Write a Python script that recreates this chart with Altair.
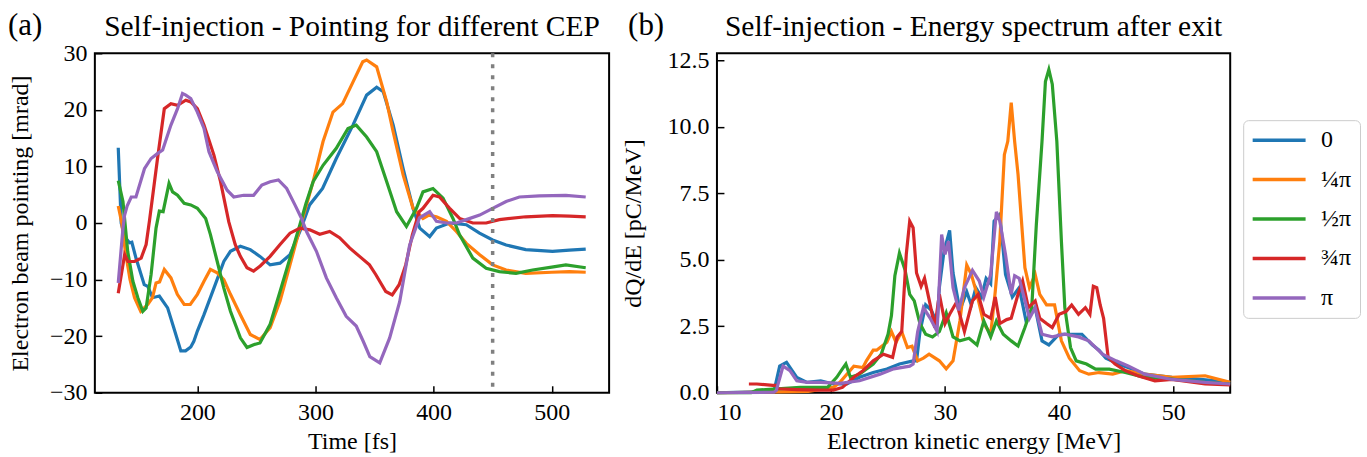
import altair as alt
import pandas as pd

FONT = "Liberation Serif"
labels = ["0", "¼π", "½π", "¾π", "π"]
colors = ["#1f77b4", "#ff7f0e", "#2ca02c", "#d62728", "#9467bd"]

# ---------------- panel (a): pointing vs time ----------------
a0_t = [133, 135.5, 138.5, 142.6, 144.5, 148, 155, 158, 162, 167.8, 174.8, 180, 186, 190, 194.4, 197, 200, 205.6, 214, 222.4, 228, 236.4, 244.8, 253, 261.6, 270, 278.4, 286.8, 295, 306, 317.6, 331.7, 343.3, 351.8, 357.4, 365.8, 374.2, 382.6, 388.3, 396.7, 402.4, 413.6, 427.7, 438.9, 450, 461.4, 478, 500.7, 515, 528.8]
a0_v = [13.3, 0, -2.5, -3.5, -3.4, -6.2, -10.9, -11.2, -13.2, -12.9, -15, -18.5, -22.6, -22.6, -21.9, -20.9, -19.1, -16.2, -11.5, -6.8, -5, -4.1, -4.7, -5.9, -7.4, -7.1, -5.6, -1.5, 3.2, 6.1, 11.4, 17.3, 22.6, 24, 23.2, 17.3, 9.6, 2.6, -0.9, -2.4, -0.9, 0, -0.3, -1.8, -3, -3.9, -4.7, -5, -4.8, -4.6]

a1_t = [133, 136, 139, 143, 146.8, 152, 158, 162, 165, 168, 172, 177.6, 183, 188.8, 194, 200, 205.6, 211, 216.8, 222.4, 228, 236.4, 244.8, 253, 261.6, 270, 278.4, 286.8, 292.4, 298, 306.4, 314.8, 323, 331.7, 340, 343.3, 351.8, 360.3, 365.8, 374.2, 382.6, 391, 396, 402.4, 410.9, 419.3, 427.7, 439, 450, 461.4, 478, 500, 515, 528.8]
a1_v = [3, 0, -5, -10, -13.2, -15.6, -14.4, -13.2, -10.6, -10.4, -8.2, -9.7, -12.6, -14.4, -14.4, -12.6, -10.3, -8.2, -8.8, -10, -12.6, -16.2, -19.7, -20.6, -18.5, -13.8, -7.4, -0.9, 3.2, 7.3, 14.4, 19.6, 21.1, 24.9, 28.5, 28.8, 27.6, 21.4, 16.1, 8.5, 2.6, 0.8, 1.4, 1.1, 0.3, -1.5, -3.6, -5.6, -7.4, -8.3, -8.9, -8.7, -8.6, -8.7]

a2_t = [133, 137, 141, 145.4, 149.6, 153.8, 156.6, 160.8, 165, 167.8, 171, 176, 179, 183.2, 188.8, 194.4, 200, 207, 211, 216.8, 222.4, 228, 236.4, 242, 247.6, 253, 261.6, 270, 278.4, 286.8, 292, 298, 306.4, 317.6, 327.5, 334.5, 343.3, 351.8, 360.3, 368.7, 377, 385.5, 391, 399.5, 408, 416.4, 422, 433.2, 444.5, 455.7, 469.8, 483.8, 500, 512, 528.8]
a2_v = [7.5, 3.8, -5, -10.3, -13.2, -15.6, -15, -9.1, -0.9, 2.1, 2, 7, 5.5, 4.9, 3.5, 3.2, 2.6, 0.8, -2, -6.8, -11.5, -15.6, -20.3, -22, -21.5, -21.2, -17.9, -12.1, -6.2, -0.3, 3.5, 7.3, 10.2, 13.2, 16.7, 17.3, 15.2, 12.6, 7.3, 2, -0.6, 2.6, 5.5, 6.1, 4.4, 0.8, -2.1, -6.2, -8, -8.6, -8.9, -8.3, -7.8, -7.4, -7.9]

a3_t = [133, 138.4, 141.2, 146.8, 152.4, 156.6, 159.5, 166, 172, 177.6, 183.2, 190.2, 194.4, 200, 205.6, 214, 219.6, 226.6, 232, 236.4, 242, 247.6, 253.2, 261.6, 270, 278.4, 286.8, 295.2, 303.6, 312, 320.4, 328.9, 337.3, 345.7, 351, 359.5, 365, 370.8, 376.4, 382, 387.8, 391, 399.5, 405, 413.6, 422, 433.2, 444.5, 455.7, 478, 500.6, 515, 528.8]
a3_v = [-12.4, -5.6, -6.8, -6.8, -6.2, -3.8, 0.5, 11, 20.2, 21.1, 20.8, 21.7, 21.4, 20.2, 17.3, 12, 7.3, 0.2, -3.8, -5.9, -7.9, -8.5, -7.6, -5.9, -3.8, -1.8, -0.9, -1.2, -2, -1.5, -2.6, -4.4, -5.9, -7.4, -9.1, -12.1, -12.7, -10.9, -7.4, -2.1, 2, 2.6, 4.9, 4.6, 2.6, 0.8, 0, 0, 0.6, 1.1, 1.3, 1.2, 1.1]

a4_t = [133, 137, 138.4, 140.5, 144, 148, 155.2, 160.8, 166.4, 170.6, 177.6, 183.2, 187.4, 190.2, 194.4, 200, 205.6, 209.8, 216.8, 225.2, 230.8, 239.2, 247.6, 254.6, 261.6, 268.6, 275.6, 282.6, 288.2, 292.4, 300.8, 309.2, 317.6, 326, 334.5, 340.4, 346, 354.4, 362.8, 371.3, 379.7, 388, 396.7, 402.4, 411, 419.3, 427.7, 439, 450, 461.4, 472.6, 489.5, 512, 528.8]
a4_v = [-10.6, -0.9, 1.4, 3, 4.6, 4.6, 9.6, 11.4, 12.3, 12.9, 17.3, 20.2, 22.9, 22.6, 22, 19.6, 16.7, 12.6, 9.1, 5.8, 4.6, 4.9, 4.9, 6.7, 7.3, 7.6, 6.1, 3.2, 0.8, -1.5, -5, -9.7, -13.2, -16.5, -18.2, -20.9, -23.6, -24.7, -20.3, -13.9, -3.9, 0.9, 2, 0.3, 0, 0, 0.6, 1.4, 2.6, 3.8, 4.6, 4.8, 4.9, 4.6]

exit_time = [450]

# ---------------- panel (b): energy spectrum ----------------
b0_e = [10, 15.0, 15.5, 16.1, 17, 17.9, 19.1, 20.2, 21.4, 22.5, 23.7, 24.9, 26, 27.2, 27.5, 27.8, 28.3, 28.8, 29.3, 29.5, 29.9, 30.4, 30.7, 31.3, 31.9, 32.3, 32.7, 33.2, 33.6, 34.0, 34.3, 34.8, 35.3, 35.9, 36.5, 37.1, 37.9, 38.5, 39.1, 40, 41.1, 42, 42.9, 43.5, 44.1, 45.2, 46.4, 47.5, 49.9, 52.2, 55]
b0_v = [0, 0.05, 1.0, 1.14, 0.58, 0.39, 0.45, 0.33, 0.33, 0.58, 0.76, 0.89, 1.08, 1.2, 1.2, 2.3, 3.3, 3.1, 2.6, 3.95, 5.3, 6.1, 4.5, 3.1, 3.8, 3.3, 3.95, 3.6, 4.3, 4.1, 6.45, 6.7, 4.45, 3.6, 3.95, 2.7, 3.2, 1.95, 1.8, 2.2, 2.2, 2.2, 1.8, 1.6, 1.3, 1.08, 0.89, 0.7, 0.58, 0.51, 0.39]

b1_e = [10, 18, 20.2, 20.8, 22, 22.8, 23.1, 23.7, 24.0, 24.9, 25.3, 25.7, 26.2, 26.7, 27.1, 27.6, 28.1, 28.6, 29.5, 30.1, 30.7, 31.3, 31.9, 32.3, 32.8, 33.4, 34.0, 34.4, 34.8, 35.2, 35.5, 35.8, 36.1, 36.4, 37.0, 37.4, 37.9, 38.3, 38.9, 39.6, 40.2, 40.9, 41.8, 42.6, 43.5, 44.7, 45.8, 47.5, 49.9, 52.8, 55]
b1_v = [0, 0.05, 0.2, 0.4, 1.0, 0.95, 1.2, 1.6, 1.6, 1.9, 2.3, 1.9, 2.3, 1.7, 1.75, 1.2, 1.3, 1.45, 1.2, 0.9, 1.2, 2.7, 4.8, 4.45, 3.7, 2.6, 2.2, 3.8, 5.7, 8.95, 9.45, 10.9, 9.45, 8.2, 4.7, 3.95, 4.45, 3.7, 3.3, 3.3, 1.95, 1.3, 0.83, 0.7, 0.76, 0.7, 0.83, 0.7, 0.58, 0.64, 0.39]

b2_e = [10, 13, 13.5, 17.3, 19.7, 20.5, 21.0, 21.3, 21.7, 22.5, 23.7, 24.4, 24.6, 25.0, 25.3, 25.6, 26.0, 26.5, 26.9, 27.3, 27.8, 28.3, 28.9, 29.5, 30.1, 30.7, 31.3, 32.1, 32.8, 33.4, 34.0, 34.5, 35.1, 35.8, 36.4, 37.0, 37.6, 38.0, 38.5, 38.8, 39.1, 39.4, 39.8, 40.2, 40.5, 41.0, 41.5, 42.4, 43.2, 44.4, 45.8, 47.5, 49.9, 52.8, 55]
b2_v = [0, 0, 0.1, 0.2, 0.2, 0.58, 0.9, 1.08, 0.58, 0.7, 1.08, 1.45, 1.7, 2.2, 2.9, 4.4, 5.25, 4.6, 3.7, 3.45, 2.6, 2.2, 2.1, 2.3, 3.0, 2.1, 1.95, 2.05, 1.8, 2.7, 2.1, 2.7, 2.2, 1.95, 1.76, 2.45, 3.2, 6.3, 9.45, 11.7, 12.15, 11.6, 9.45, 5.7, 3.2, 1.7, 1.2, 1.08, 0.89, 0.89, 0.76, 0.58, 0.51, 0.39, 0.33]

b3_e = [12.8, 13.5, 14.9, 15.2, 15.4, 17, 19, 20.2, 21.0, 22.0, 22.8, 23.7, 24.6, 25.4, 25.8, 26.2, 26.6, 26.9, 27.2, 27.5, 27.9, 28.2, 28.7, 29.1, 29.5, 30.0, 30.4, 31.0, 31.7, 32.4, 32.9, 33.4, 34.0, 34.4, 34.8, 35.4, 35.8, 36.4, 36.8, 37.3, 37.9, 38.3, 38.9, 39.4, 40.0, 40.6, 41.1, 41.7, 42.3, 42.7, 43.0, 43.3, 43.6, 43.9, 44.3, 44.9, 45.8, 46.9, 48.4, 49.9, 52.8, 55]
b3_v = [0.33, 0.33, 0.28, 0.28, 0.15, 0.12, 0.1, 0.1, 0.2, 0.58, 0.83, 1.2, 1.45, 1.33, 2.1, 2.3, 5.2, 6.45, 6.2, 4.5, 4.0, 4.3, 3.3, 2.45, 3.7, 2.6, 2.95, 3.4, 2.3, 3.45, 3.7, 2.95, 2.8, 3.6, 2.6, 2.75, 2.8, 3.7, 4.2, 3.2, 3.45, 2.8, 2.6, 2.45, 2.95, 3.05, 3.3, 2.95, 3.2, 2.95, 4.0, 3.95, 3.3, 2.8, 1.33, 1.08, 0.83, 0.64, 0.45, 0.5, 0.33, 0.3]

b4_e = [10, 15.0, 15.2, 15.8, 16.4, 17.0, 17.9, 19.1, 20.8, 22.5, 24.3, 25.5, 26.9, 27.2, 27.6, 28.1, 28.7, 29.3, 29.7, 30.0, 30.3, 30.7, 31.2, 31.7, 32.4, 33.0, 33.4, 34.0, 34.5, 34.8, 35.3, 35.8, 36.1, 36.5, 37.4, 37.9, 38.5, 39.4, 40.5, 41.7, 42.6, 43.8, 45.0, 46.1, 47.5, 49.9, 52.8, 55]
b4_v = [0, 0.02, 0.08, 1.0, 0.83, 0.45, 0.39, 0.39, 0.35, 0.45, 0.7, 0.9, 1.0, 1.08, 2.3, 3.2, 2.8, 2.3, 5.95, 5.2, 5.7, 3.95, 3.1, 3.95, 4.6, 4.2, 3.6, 4.45, 6.8, 6.45, 5.2, 3.7, 4.4, 4.3, 2.8, 3.2, 2.2, 2.1, 2.2, 2.1, 1.95, 1.45, 1.2, 1.0, 0.7, 0.5, 0.39, 0.33]

title_a = "Self-injection - Pointing for different CEP"
title_b = "Self-injection - Energy spectrum after exit"


def build(pairs, xname, yname):
    frames = []
    for lab, (xs, ys) in zip(labels, pairs):
        frames.append(pd.DataFrame({xname: xs, yname: ys, "cep": lab}))
    return pd.concat(frames, ignore_index=True)


df_a = build([(a0_t, a0_v), (a1_t, a1_v), (a2_t, a2_v), (a3_t, a3_v), (a4_t, a4_v)], "t", "v")
df_b = build([(b0_e, b0_v), (b1_e, b1_v), (b2_e, b2_v), (b3_e, b3_v), (b4_e, b4_v)], "e", "q")
df_exit = pd.DataFrame({"t": exit_time})

WA, WB, H = 515, 514, 340
LW = 3.2

axis_common = dict(domain=False, grid=False, offset=-7, tickSize=7, tickWidth=1.5,
                   tickColor="black", labelColor="black", titleColor="black",
                   labelFont=FONT, titleFont=FONT, labelFontSize=24, titleFontSize=24,
                   labelFontWeight="normal", titleFontWeight="normal", labelPadding=8)


def text_layer(s, x, y, size, align):
    return alt.Chart(pd.DataFrame({"s": [s]})).mark_text(
        font=FONT, fontSize=size, align=align, baseline="alphabetic", color="black"
    ).encode(text="s:N", x=alt.value(x), y=alt.value(y))


xa = alt.X("t:Q", scale=alt.Scale(domain=[113.2, 548.6], nice=False, zero=False),
           axis=alt.Axis(values=[200, 300, 400, 500], format="d", title="Time [fs]",
                         titlePadding=5, **axis_common))
ya = alt.Y("v:Q", scale=alt.Scale(domain=[-30, 30], nice=False),
           axis=alt.Axis(values=[-30, -20, -10, 0, 10, 20, 30], format="d",
                         title="Electron beam pointing [mrad]", titlePadding=17, **axis_common))

lines_a = alt.Chart(df_a).mark_line(strokeWidth=LW).encode(
    x=xa, y=ya,
    color=alt.Color("cep:N", scale=alt.Scale(domain=labels, range=colors), legend=None),
)
rule_a = alt.Chart(df_exit).mark_rule(color="#808080", strokeWidth=3.5, strokeDash=[4, 7]).encode(x="t:Q")

left = alt.layer(
    lines_a, rule_a,
    text_layer("(a)", -87, -18, 31, "left"),
    text_layer(title_a, WA / 2, -17, 29.5, "center"),
).properties(width=WA, height=H)

xb = alt.X("e:Q", scale=alt.Scale(domain=[10, 55], nice=False, zero=False),
           axis=alt.Axis(values=[10, 20, 30, 40, 50], format="d",
                         title="Electron kinetic energy [MeV]", titlePadding=5, **axis_common))
yb = alt.Y("q:Q", scale=alt.Scale(domain=[0, 12.76], nice=False),
           axis=alt.Axis(values=[0, 2.5, 5, 7.5, 10, 12.5], format=".1f",
                         title="dQ/dE [pC/MeV]", titlePadding=22, **axis_common))

lines_b = alt.Chart(df_b).mark_line(strokeWidth=LW).encode(
    x=xb, y=yb,
    color=alt.Color("cep:N", scale=alt.Scale(domain=labels, range=colors),
                    legend=alt.Legend(title=None, orient="none", legendX=527, legendY=67,
                                      symbolType="M-2.65,0H2.65", symbolSize=400,
                                      symbolStrokeWidth=3.5, symbolOffset=16, labelOffset=30,
                                      labelFont=FONT, labelFontSize=24, labelColor="black",
                                      labelFontWeight="normal",
                                      rowPadding=15.5, padding=8, strokeColor="#cccccc",
                                      cornerRadius=5, fillColor="white")),
)

right = alt.layer(
    lines_b,
    text_layer("(b)", -89, -18, 31, "left"),
    text_layer(title_b, WB / 2, -17, 29.5, "center"),
).properties(width=WB, height=H)

chart = alt.hconcat(left, right, spacing=108, bounds="flush").resolve_scale(color="independent").properties(
    padding={"left": 7, "top": 9, "right": 5, "bottom": 5},
    background="white",
).configure(
    font=FONT,
    style={"guide-label": {"font": FONT}, "guide-title": {"font": FONT}},
).configure_axis(labelFont=FONT, titleFont=FONT).configure_legend(
    labelFont=FONT
).configure_text(font=FONT).configure_view(stroke="black", strokeWidth=2)

chart.save("out.html", embed_options={"renderer": "svg", "actions": False})
